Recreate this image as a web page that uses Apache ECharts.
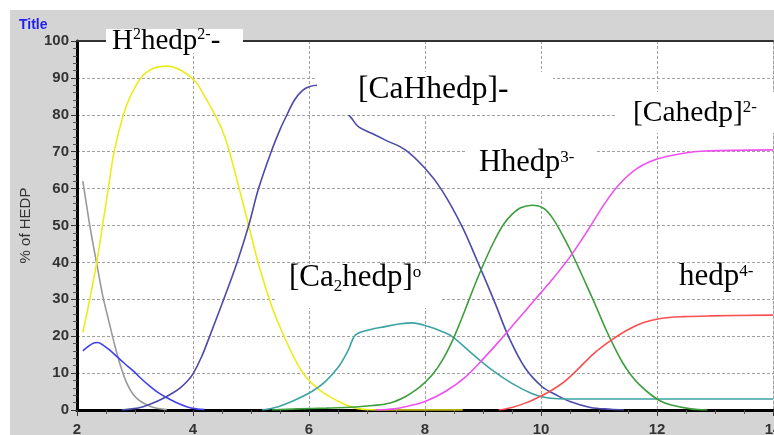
<!DOCTYPE html>
<html>
<head>
<meta charset="utf-8">
<script src="https://cdn.jsdelivr.net/npm/echarts@6/dist/echarts.min.js"></script>
<style>
  html, body { margin: 0; padding: 0; background: #ffffff; }
  #panel { position: absolute; left: 10px; top: 10px; width: 764px; height: 425px; background: #d4d4d4; }
  #chart { position: absolute; left: 0; top: 0; width: 774px; height: 435px; }
</style>
</head>
<body>
<div id="panel"></div>
<div id="chart"></div>
<script>
// Axis ranges (pH on x, percentage of HEDP on y)
const xRange = [2, 14];
const xStep = 2;
const yRange = [0, 100];
const yStep = 10;

// Species distribution curves: [pH, % of HEDP]
const h4hedp = [[2.1,62],[2.16,56],[2.22,50],[2.3,43],[2.36,38],[2.45,30.5],[2.55,24],[2.66,17],[2.76,11.5],
  [2.86,7.2],[2.97,4.2],[3.1,2.3],[3.25,1.1],[3.4,0.4],[3.55,0.1]];
const h3hedp = [[2.1,16],[2.2,17.3],[2.3,18.2],[2.36,18.3],[2.45,17.6],[2.55,16.4],[2.68,14.6],[2.82,12.6],
  [2.97,10.6],[3.1,8.6],[3.26,6.4],[3.4,4.7],[3.55,3.3],[3.7,2.1],[3.89,0.9],[4.05,0.3],[4.2,0.1]];
const h2hedp = [[2.1,21],[2.22,30],[2.34,40],[2.44,50],[2.54,60],[2.64,70],[2.8,80],[2.92,85],[3.1,90],
  [3.3,92.5],[3.55,93.2],[3.8,92],[4.04,89],[4.2,85],[4.38,80],[4.5,76],[4.61,71],[4.78,61],[4.96,50],
  [5.13,39.5],[5.36,28],[5.5,22.5],[5.65,17.2],[5.8,12.5],[5.93,9.3],[6.08,6.8],[6.22,5],[6.37,3.5],
  [6.51,2.3],[6.65,1.3],[6.8,0.5],[7.0,0.1],[7.2,0],[8.65,0]];
const caHhedp = [[2.77,0],[2.95,0.3],[3.14,0.9],[3.3,1.8],[3.49,3.2],[3.65,4.6],[3.78,6],[3.9,7.8],[4.0,9.8],
  [4.15,14.5],[4.3,20.5],[4.53,30],[4.76,40],[4.96,50],[5.13,60],[5.36,70.5],[5.5,76],[5.62,80],[5.75,84],
  [5.88,86.5],[6.0,87.6],[6.15,88],[6.71,79.5],[6.85,76.8],[7.08,75],[7.31,73.2],[7.66,70.5],[8.0,65.5],
  [8.29,59.6],[8.64,49.7],[8.92,39.7],[9.21,28.9],[9.44,19.9],[9.73,11.3],[10.02,6.3],[10.25,4.2],
  [10.5,2.3],[10.85,0.7],[11.2,0.2],[11.43,0]];
const ca2hedp = [[5.19,0],[5.47,0.9],[5.76,2.7],[6.05,5],[6.28,7.7],[6.51,11.7],[6.68,16.3],[6.8,20.3],
  [7.03,21.7],[7.31,22.6],[7.55,23.3],[7.78,23.6],[8.06,22.6],[8.3,21.2],[8.47,19.9],[8.81,15.3],
  [9.16,10.8],[9.5,7.2],[9.85,4.4],[10.1,3.3],[10.4,3.0],[14,3.0]];
const hhedp = [[5.36,0],[5.8,0.3],[6.3,0.5],[6.8,0.8],[7.1,1.2],[7.4,1.9],[7.66,3.6],[7.85,5.5],[8.0,7.5],
  [8.15,10],[8.3,13.5],[8.45,18],[8.6,23.5],[8.75,29.5],[8.9,35.5],[9.05,41],[9.2,46],[9.35,50.2],[9.5,53],
  [9.65,54.8],[9.85,55.5],[10.05,54.6],[10.2,52],[10.35,48],[10.5,43.5],[10.65,38.5],[10.8,33.3],[10.95,28],
  [11.1,22.5],[11.25,17.5],[11.4,13],[11.55,9.5],[11.7,6.8],[11.89,4.2],[12.05,2.5],[12.23,1.4],[12.58,0.3],
  [12.87,0]];
const cahedp = [[7.15,0],[7.47,0.3],[7.66,0.9],[8.0,2.3],[8.35,5],[8.7,9],[9.0,13.8],[9.3,19],[9.6,24.5],
  [9.9,30],[10.2,35.5],[10.5,41.5],[10.8,48.5],[11.1,56],[11.37,61.5],[11.66,65.5],[12.0,68],[12.46,69.6],
  [12.81,70.2],[14,70.5]];
const hedp = [[9.27,0],[9.5,0.7],[9.75,2],[10.0,3.8],[10.2,5.5],[10.4,7.6],[10.62,10.8],[10.91,15.3],
  [11.2,18.8],[11.49,21.7],[11.77,23.7],[12.06,24.8],[12.46,25.3],[12.92,25.5],[14,25.7]];

// Species names written on the plot
const speciesText = {
  h2hedp: '{a|H}{s|2}{a|hedp}{s|2-}{a|-}',
  caHhedp: '{a|[CaHhedp]-}',
  cahedp: '{a|[Cahedp]}{s|2-}',
  hhedp: '{a|Hhedp}{s|3-}',
  ca2hedp: '{a|[Ca}{b|2}{a|hedp]}{s|o}',
  hedp: '{a|hedp}{s|4-}'
};

const serif = '"Liberation Serif", "Times New Roman", serif';
function richFor(size) {
  const sub = Math.round(size * 0.56);
  return {
    a: { fontFamily: serif, fontSize: size, lineHeight: 34, fill: '#000', color: '#000', verticalAlign: 'middle' },
    s: { fontFamily: serif, fontSize: sub, lineHeight: 34, fill: '#000', color: '#000', verticalAlign: 'top', padding: [3, 0, 0, 0] },
    b: { fontFamily: serif, fontSize: sub, lineHeight: 34, fill: '#000', color: '#000', verticalAlign: 'bottom' }
  };
}

function mask(x, y, w, h) {
  return { type: 'rect', z: 50, shape: { x: x, y: y, width: w, height: h }, style: { fill: '#ffffff' }, silent: true };
}
function label(key, x, y, size) {
  return { type: 'text', z: 60, x: x, y: y, style: { text: speciesText[key], rich: richFor(size), verticalAlign: 'top' }, silent: true };
}

function lineSeries(data, color) {
  return {
    type: 'line', data: data, showSymbol: false, smooth: 0.35, clip: true,
    lineStyle: { color: color, width: 1.6 }, itemStyle: { color: color }, z: 3
  };
}

const chart = echarts.init(document.getElementById('chart'), null, { renderer: 'canvas' });
const axisFont = { fontFamily: '"Liberation Sans", Arial, sans-serif', fontSize: 15, fontWeight: 'bold', color: '#333' };
chart.setOption({
  backgroundColor: 'transparent',
  animation: false,
  title: {
    text: 'Title', left: 14, top: 13,
    textStyle: { color: '#2020f0', fontSize: 14, fontWeight: 'bold', fontFamily: '"Liberation Sans", Arial, sans-serif' }
  },
  grid: { left: 77, top: 41, right: 1, bottom: 25, containLabel: false, outerBoundsMode: 'none',
    show: true, backgroundColor: '#ffffff', borderWidth: 0 },
  xAxis: [{
    type: 'value', min: xRange[0], max: xRange[1], interval: xStep,
    axisLine: { lineStyle: { color: '#000', width: 3 } },
    axisTick: { show: true, length: 6, lineStyle: { color: '#333', width: 1 } },
    minorTick: { show: true, splitNumber: 4, length: 4, lineStyle: { color: '#555' } },
    splitLine: { show: true, lineStyle: { color: '#a0a0a0', type: [3, 2], width: 1 } },
    axisLabel: Object.assign({ margin: 12 }, axisFont)
  }, {
    type: 'value', position: 'top', min: xRange[0], max: xRange[1],
    axisLine: { show: true, lineStyle: { color: '#333', width: 2 } },
    axisTick: { show: false }, axisLabel: { show: false }, splitLine: { show: false }
  }],
  yAxis: {
    type: 'value', min: yRange[0], max: yRange[1], interval: yStep,
    name: '% of HEDP', nameLocation: 'middle', nameGap: 42, nameRotate: 90,
    nameTextStyle: { fontFamily: '"Liberation Sans", Arial, sans-serif', fontSize: 15, color: '#333' },
    axisLine: { show: true, lineStyle: { color: '#000', width: 3 } },
    axisTick: { show: true, length: 6, lineStyle: { color: '#333', width: 1 } },
    minorTick: { show: true, splitNumber: 5, length: 4, lineStyle: { color: '#555' } },
    splitLine: { show: true, lineStyle: { color: '#a0a0a0', type: [3, 2], width: 1 } },
    axisLabel: Object.assign({ margin: 8 }, axisFont)
  },
  series: [
    lineSeries(h4hedp, '#9a9a9a'),
    lineSeries(h3hedp, '#3f3ff0'),
    lineSeries(h2hedp, '#ecec1c'),
    lineSeries(caHhedp, '#4b4baa'),
    lineSeries(ca2hedp, '#3ea3a3'),
    lineSeries(hhedp, '#3e9e3e'),
    lineSeries(cahedp, '#f050f0'),
    lineSeries(hedp, '#f85050')
  ],
  graphic: [
    mask(106, 29, 137, 24),
    mask(317, 72, 236, 43),
    mask(617, 92, 157, 41),
    mask(465, 117, 130, 71),
    mask(276, 264, 164, 44),
    label('h2hedp', 112, 24, 29),
    label('caHhedp', 358, 73, 31.5),
    label('cahedp', 633, 96.5, 29.5),
    label('hhedp', 479, 146, 30.5),
    label('ca2hedp', 289, 261, 31),
    label('hedp', 679, 260, 31)
  ]
});
</script>
</body>
</html>
